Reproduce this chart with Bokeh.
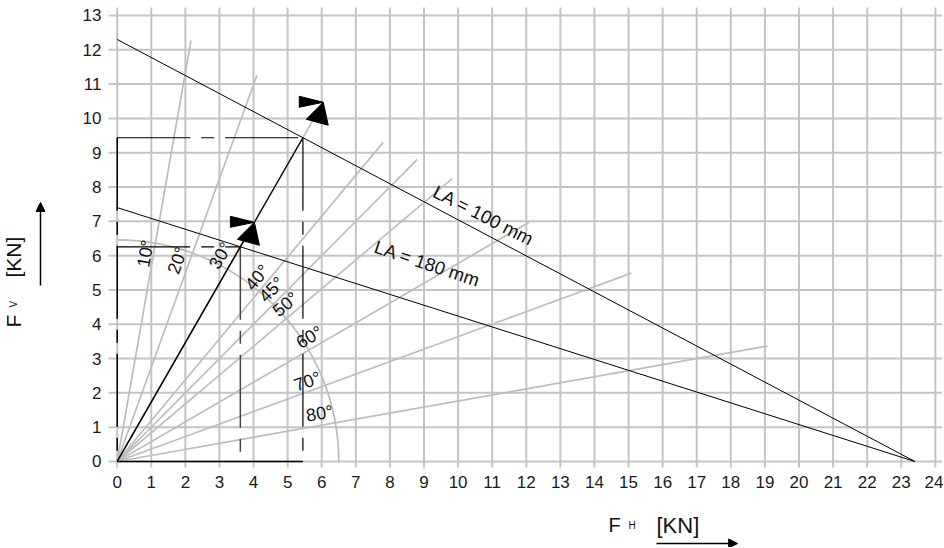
import numpy as np
from bokeh.plotting import figure
from bokeh.models import Range1d, FixedTicker, Label, Arrow, NormalHead, ColumnDataSource
from bokeh.core.properties import value
from bokeh.embed import file_html
from bokeh.resources import INLINE

FONT = "Liberation Sans"

# ---------------- data ----------------
fh_ticks = list(range(0, 25))          # F_H axis ticks [KN]
fv_ticks = list(range(0, 14))          # F_V axis ticks [KN]

ray_angles_deg = [10, 20, 30, 40, 45, 50, 60, 70, 80]
ray_lengths = [12.46, 11.98, 11.70, 12.14, 12.45, 12.83, 13.95, 16.05, 19.37]
ray_labels = ["10°", "20°", "30°", "40°", "45°", "50°", "60°", "70°", "80°"]

la_names = ["LA = 100 mm", "LA = 180 mm"]
la_fv_max = [12.3, 7.4]     # intercept on F_V axis
la_fh_max = [23.4, 23.4]    # intercept on F_H axis

arc_radius = 6.5
example_angle_deg = 30
arrow_tip_lengths = [8.05, 12.09]

# ---------------- annotation positions ----------------
ray_label_x = [0.83, 1.77, 3.03, 4.11, 4.53, 4.94, 5.64, 5.58, 5.94]
ray_label_y = [6.06, 5.86, 6.00, 5.36, 5.01, 4.58, 3.62, 2.33, 1.40]
la_label_x = [10.75, 9.10]
la_label_y = [7.17, 5.77]
la_label_angle_deg = [-27.0, -18.5]

PX_X = 34.09   # px per unit (x)
PX_Y = 34.31   # px per unit (y)
GRID_X0, GRID_X1 = -0.255, 24.2
GRID_Y0, GRID_Y1 = -0.175, 13.233

p = figure(width=943, height=547,
           x_range=Range1d(-3.423, 24.239), y_range=Range1d(-2.507, 13.436),
           output_backend="svg", toolbar_location=None,
           min_border_left=0, min_border_right=0, min_border_top=0, min_border_bottom=0)
p.outline_line_color = None
p.background_fill_color = "white"
p.border_fill_color = "white"
p.grid.visible = False

for ax in (p.xaxis, p.yaxis):
    ax.axis_line_color = None
    ax.major_tick_line_color = None
    ax.minor_tick_line_color = None
    ax.major_tick_in = 0
    ax.major_tick_out = 0
    ax.major_label_text_font = FONT
    ax.major_label_text_font_size = "17px"
    ax.major_label_text_color = "#1a1a1a"
p.xaxis.ticker = FixedTicker(ticks=fh_ticks)
p.yaxis.ticker = FixedTicker(ticks=fv_ticks)
p.xaxis.fixed_location = GRID_Y0
p.yaxis.fixed_location = GRID_X0
p.xaxis.major_label_standoff = 9
p.yaxis.major_label_standoff = 7

GRID = "#c4c4c4"
GRAY = "#bdbdbd"

# grid
p.segment(x0=fh_ticks, y0=GRID_Y0, x1=fh_ticks, y1=GRID_Y1, line_color=GRID, line_width=2)
p.segment(x0=GRID_X0, y0=fv_ticks, x1=GRID_X1, y1=fv_ticks, line_color=GRID, line_width=2)

# angle rays
ang = np.radians(ray_angles_deg)
L = np.array(ray_lengths)
p.segment(x0=0, y0=0, x1=L * np.sin(ang), y1=L * np.cos(ang), line_color=GRAY, line_width=1.7)

# quarter circle
p.arc(x=0, y=0, radius=arc_radius, start_angle=0, end_angle=np.pi / 2,
      line_color=GRAY, line_width=1.7)

# LA lines
p.segment(x0=[0, 0], y0=la_fv_max, x1=la_fh_max, y1=[0, 0], line_color="black", line_width=1)

# example construction along the 30 deg ray
a = np.radians(example_angle_deg)
pts = []
for v, h in zip(la_fv_max, la_fh_max):
    s = v / (np.cos(a) + v * np.sin(a) / h)
    pts.append((s * np.sin(a), s * np.cos(a)))
(p2x, p2y), (p1x, p1y) = pts  # p2: LA=100, p1: LA=180

DASH = "73 11 13 11"
p.line([0, p2x], [p2y, p2y], line_color="black", line_width=1.2, line_dash=DASH)
p.line([p2x, p2x], [p2y, 0], line_color="black", line_width=1.2, line_dash=DASH)
p.line([0, 0], [p2y, 0], line_color="black", line_width=1.5, line_dash=DASH)
p.line([0, p1x], [p1y, p1y], line_color="black", line_width=1.2, line_dash=DASH)
p.line([p1x, p1x], [p1y, 0], line_color="#444444", line_width=1.5, line_dash=DASH)
p.line([0, p2x], [0, 0], line_color="black", line_width=1.5)

tips = [(l * np.sin(a), l * np.cos(a)) for l in arrow_tip_lengths]
p.line([0, tips[0][0]], [0, tips[0][1]], line_color="black", line_width=1.5)
p.line([tips[0][0], p2x], [tips[0][1], p2y], line_color="black", line_width=1.3)

# arrow markers (pixel offsets from tip, y downward)
flag = [(-24, -6), (-24, 5), (0, 0)]
head = [(0, 0), (-17, 17), (5, 23)]
xs, ys = [], []
for tx, ty in tips:
    for shape in (flag, head):
        xs.append([tx + dx / PX_X for dx, dy in shape])
        ys.append([ty - dy / PX_Y for dx, dy in shape])
p.patches(xs=xs, ys=ys, fill_color="black", line_color="black", line_width=1)

# angle labels
src = ColumnDataSource(dict(x=ray_label_x, y=ray_label_y, text=ray_labels,
                            angle=list(np.radians(90 - np.array(ray_angles_deg)))))
p.text(x="x", y="y", text="text", angle="angle", source=src,
       text_font=value(FONT), text_font_size="18px", text_color="#111111",
       text_align="center", text_baseline="middle")

# LA labels
p.text(x=la_label_x, y=la_label_y, text=la_names, angle=list(np.radians(la_label_angle_deg)),
       text_font=value(FONT), text_font_size="18.5px", text_color="#111111",
       text_align="center", text_baseline="middle")

# axis titles
def lab(x, y, t, size, angle=0):
    p.add_layout(Label(x=x, y=y, text=t, angle=angle, text_font=FONT, text_font_size=size,
                       text_color="#111111", text_align="left", text_baseline="alphabetic"))

lab(14.41, -1.865, "F", "20px")
lab(15.00, -1.865, "H", "10px")
lab(15.82, -1.865, "[KN]", "22px")
lab(-3.04, 3.906, "F", "21px", np.pi / 2)
lab(-3.04, 4.489, "V", "10px", np.pi / 2)
lab(-3.04, 5.363, "[KN]", "21px", np.pi / 2)

p.add_layout(Arrow(end=NormalHead(size=9, fill_color="black", line_color="black"),
                   x_start=15.82, y_start=-2.39, x_end=18.2, y_end=-2.39,
                   line_color="black", line_width=1.5))
p.add_layout(Arrow(end=NormalHead(size=9, fill_color="black", line_color="black"),
                   x_start=-2.25, y_start=5.13, x_end=-2.25, y_end=7.55,
                   line_color="black", line_width=1.5))

open("out.html", "w").write(file_html(p, INLINE))
